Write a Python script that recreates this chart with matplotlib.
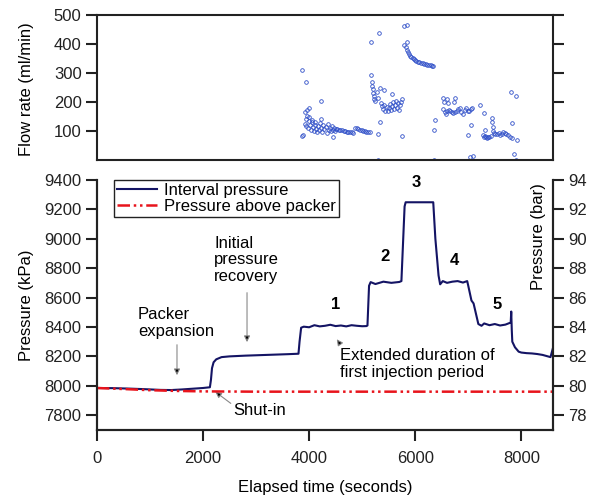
import matplotlib
matplotlib.use('Agg')
import matplotlib.pyplot as plt

plt.rcParams['font.family'] = ['Liberation Sans', 'DejaVu Sans']
plt.rcParams['font.size'] = 12

# --- DATA ---
# flow rate samples (seconds, ml/min)
flow_t = [3860, 3945, 4220, 3925, 3965, 4005, 4230, 4447, 3862, 3893, 4000, 3960,
          3920, 3950, 3980, 4010, 4030, 4050, 4070, 4090, 4110, 4130, 4150, 4170,
          4190, 4210, 4230, 4250, 4270, 4290, 4310, 4330, 4350, 4370, 4390, 4410,
          4430, 4450, 4470, 4490, 3935, 3990, 4060, 4120,
          4500, 4530, 4560, 4590, 4620, 4650, 4680, 4710, 4740, 4770, 4800, 4830,
          4870, 4900, 4930, 4960, 4990, 5020, 5050, 5080, 5110, 5140,
          5170, 5309, 5170, 5180, 5190, 5200, 5210, 5220, 5230, 5240, 5328, 5296,
          5749, 5296, 5340, 5415, 5565, 5280, 5300,
          5350, 5380, 5400, 5420, 5440, 5460, 5480, 5500, 5520, 5540, 5560, 5580,
          5600, 5620, 5640, 5660, 5680, 5700, 5720, 5740, 5760,
          5793, 5843, 5843, 5793, 5830, 5850, 5870, 5890, 5910, 5930, 5950, 5970,
          5990, 6020, 6050, 6080, 6110, 6140, 6170, 6200, 6230, 6260, 6290, 6320, 6340,
          6350, 6378, 6359,
          6520, 6545, 6600, 6610, 6750, 6740,
          6530, 6555, 6575, 6600, 6630, 6660, 6690, 6720, 6750, 6780, 6810, 6840,
          6870, 6900, 6930, 6960, 6990, 7020, 7045, 7070,
          7057, 7000, 7035, 7080,
          7227, 7290, 7310,
          7280, 7300, 7320, 7340, 7360, 7380, 7400, 7420, 7440, 7450, 7460, 7470,
          7490, 7510, 7540, 7570, 7600, 7630, 7660, 7690, 7720, 7750, 7780,
          7811, 7906, 7820, 7820, 7910, 7870, 7900]
flow_q = [310, 270, 203, 167, 172, 178, 140, 80, 83, 86, 148, 150,
          125, 118, 112, 120, 105, 130, 115, 100, 122, 108, 96, 118,
          104, 128, 112, 98, 120, 106, 115, 94, 125, 103, 112, 99,
          118, 105, 110, 100, 140, 135, 138, 132,
          108, 106, 105, 104, 102, 101, 99, 98, 97, 96, 95, 94,
          112, 110, 107, 104, 102, 100, 99, 98, 97, 97,
          406, 437, 293, 270, 255, 245, 232, 222, 212, 205, 132, 90,
          84, 0, 248, 241, 228, 235, 215,
          195, 185, 175, 190, 170, 182, 168, 178, 192, 172, 185, 200,
          176, 190, 205, 180, 195, 172, 188, 200, 210,
          462, 465, 408, 397, 390, 380, 372, 365, 360, 355, 352, 348,
          345, 342, 339, 337, 335, 333, 331, 330, 328, 327, 326, 325, 325,
          0, 138, 103,
          215, 200, 210, 195, 215, 200,
          175, 165, 158, 170, 172, 168, 165, 163, 165, 170, 175, 178,
          165, 160, 172, 178, 170, 168, 175, 180,
          121, 86, 11, 15,
          190, 161, 103,
          85, 80, 82, 78, 77, 80, 79, 83, 145, 130, 115, 100,
          92, 88, 90, 93, 86, 90, 95, 92, 88, 85, 80,
          233, 221, 126, 75, 69, 21, 0]

# interval pressure (seconds, kPa)
int_t = [0, 300, 600, 900, 1200, 1400, 1600, 1800, 2000, 2130, 2150, 2170, 2200,
         2250, 2350, 2500, 2800, 3200, 3600, 3800, 3820, 3850, 3900, 4000, 4100,
         4200, 4300, 4400, 4500, 4600, 4700, 4800, 4900, 5000, 5080, 5100, 5130,
         5160, 5250, 5400, 5550, 5700, 5740, 5800, 5820, 6000, 6200, 6340, 6380,
         6440, 6470, 6520, 6600, 6700, 6800, 6900, 6980, 7000, 7060, 7100, 7190,
         7250, 7300, 7400, 7500, 7600, 7700, 7800, 7810, 7820, 7830, 7880, 7950,
         8000, 8100, 8200, 8300, 8400, 8500, 8550, 8600]
int_p = [7985, 7984, 7981, 7977, 7972, 7971, 7975, 7980, 7985, 7990, 8040, 8120,
         8160, 8180, 8195, 8200, 8205, 8210, 8215, 8218, 8300, 8395, 8402, 8398,
         8412, 8404, 8408, 8415, 8406, 8410, 8404, 8412, 8408, 8405, 8406, 8410,
         8680, 8705, 8692, 8708, 8700, 8706, 8712, 9220, 9248, 9248, 9248, 9248,
         9000, 8750, 8690, 8712, 8700, 8708, 8712, 8702, 8712, 8680, 8580, 8560,
         8420, 8408, 8424, 8412, 8420, 8410, 8416, 8430, 8505, 8380, 8300, 8262,
         8232, 8226, 8222, 8220, 8216, 8210, 8200, 8195, 8262]

# pressure above packer (seconds, kPa)
pk_t = [0, 500, 1000, 1500, 2000, 3000, 8600]
pk_p = [7985, 7978, 7970, 7965, 7962, 7960, 7960]

num_labels = ['1', '2', '3', '4', '5']
num_t = [4491, 5434, 6019, 6736, 7548]
num_p = [8556, 8876, 9380, 8850, 8556]

NAVY = '#141464'
RED = '#e8141c'
GREY = '#222222'

fig = plt.figure(figsize=(5.98, 4.97), dpi=100, facecolor='white')

# --- FLOW RATE PANEL ---
ax1 = fig.add_axes([0.162, 0.678, 0.763, 0.292])
ax1.plot(flow_t, flow_q, 'o', ms=2.6, mfc='none', mec='#2f4fc8', mew=0.6)
ax1.set_xlim(0, 8600)
ax1.set_ylim(0, 500)
ax1.set_yticks([100, 200, 300, 400, 500])
ax1.set_xticks([])
ax1.tick_params(axis='y', which='both', direction='out', length=8, width=1.5,
                right=True, labelright=False, colors=GREY, labelcolor=GREY, pad=3)
for s in ax1.spines.values():
    s.set_linewidth(1.5)
    s.set_color(GREY)

# --- PRESSURE PANEL ---
ax2 = fig.add_axes([0.162, 0.135, 0.763, 0.503])
ax2.plot(int_t, int_p, color=NAVY, lw=1.5, label='Interval pressure', zorder=3)
ax2.plot(pk_t, pk_p, color=RED, lw=1.8, ls=(0, (5, 1.5, 1, 1.5, 1, 1.5)),
         label='Pressure above packer', zorder=4)
ax2.set_xlim(0, 8600)
ax2.set_ylim(7700, 9400)
ax2.set_xticks([0, 2000, 4000, 6000, 8000])
ax2.set_yticks(range(7800, 9401, 200))
ax2.spines['top'].set_visible(False)
for s in ax2.spines.values():
    s.set_linewidth(1.5)
    s.set_color(GREY)
ax2.tick_params(direction='out', length=8, width=1.5, colors=GREY, pad=3)
ax2.tick_params(axis='x', pad=7)
ax2.set_xlabel('Elapsed time (seconds)', labelpad=10)

ax3 = ax2.twinx()
ax3.set_ylim(77, 94)
ax3.set_yticks(range(78, 95, 2))
ax3.spines['top'].set_visible(False)
for s in ax3.spines.values():
    s.set_linewidth(1.5)
    s.set_color(GREY)
ax3.tick_params(direction='out', length=8, width=1.5, colors=GREY, pad=3)

leg = ax2.legend(loc='upper left', bbox_to_anchor=(0.037, 1.0), fancybox=False,
                 edgecolor=GREY, framealpha=1, handlelength=2.4, handletextpad=0.4,
                 borderpad=0.2, labelspacing=0.05, borderaxespad=0)
leg.get_frame().set_linewidth(1.0)

for lab, t, p in zip(num_labels, num_t, num_p):
    ax2.text(t, p, lab, ha='center', va='center', fontweight='bold')

arrow = dict(arrowstyle='-|>', ec='#888888', fc='black', lw=0.8, mutation_scale=9)
ax2.annotate('', xy=(2830, 8278), xytext=(2830, 8652), arrowprops=arrow)
ax2.text(2208, 8856, 'Initial\npressure\nrecovery', ha='left', va='center', linespacing=1.1)
ax2.annotate('', xy=(1510, 8053), xytext=(1510, 8298), arrowprops=arrow)
ax2.text(774, 8427, 'Packer\nexpansion', ha='left', va='center', linespacing=1.1)
ax2.annotate('', xy=(2189, 7971), xytext=(2566, 7869), arrowprops=arrow)
ax2.text(2580, 7835, 'Shut-in', ha='left', va='center')
ax2.annotate('', xy=(4491, 8332), xytext=(4585, 8284), arrowprops=arrow)
ax2.text(4585, 8148, 'Extended duration of\nfirst injection period', ha='left', va='center',
         linespacing=1.1)

# axis labels
fig.text(0.045, 1 - 89 / 497, 'Flow rate (ml/min)', rotation=90, ha='center', va='center')
fig.text(0.045, 1 - 305 / 497, 'Pressure (kPa)', rotation=90, ha='center', va='center')
fig.text(538 / 598, 1 - 237 / 497, 'Pressure (bar)', rotation=90, ha='center', va='center')

fig.savefig('out.png', dpi=100)
